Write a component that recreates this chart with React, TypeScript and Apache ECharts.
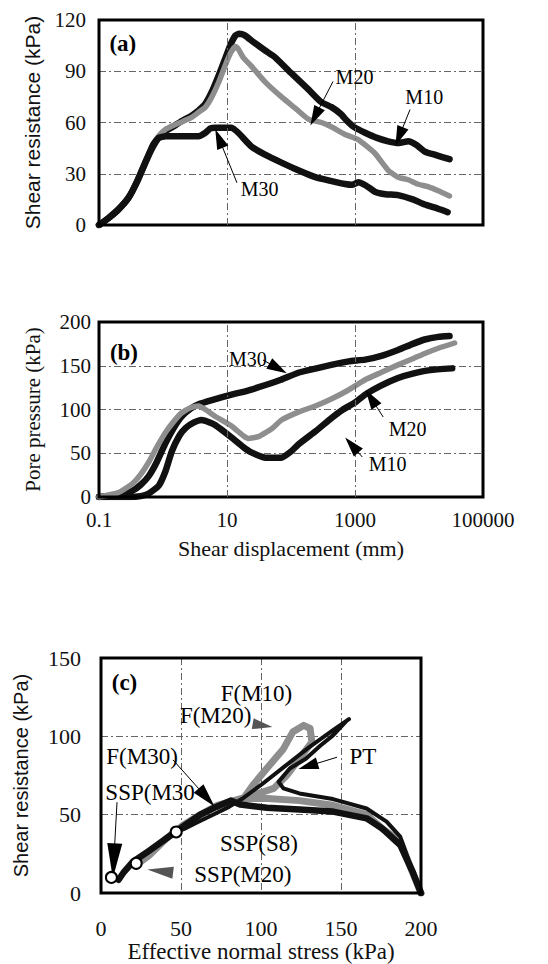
import React, { useEffect, useRef } from "react";
import * as echarts from "echarts";

// ---------- Panel (a): shear resistance vs shear displacement ----------
const M10_A = [
  [0.1, 0], [0.14, 4], [0.2, 9], [0.29, 16], [0.4, 26], [0.55, 38], [0.7, 46], [0.85, 51],
  [1.1, 55], [1.5, 58], [2, 61], [2.8, 64], [3.6, 67], [4.6, 71], [5.8, 78], [7.5, 88],
  [9.5, 98], [11.5, 106], [13.6, 111], [15.5, 112], [19, 111], [26, 107], [40, 102],
  [57, 98], [100, 89], [180, 80], [295, 72], [430, 69], [600, 65], [750, 61], [1000, 57],
  [1440, 54], [2200, 51], [3300, 49], [4800, 48], [6800, 49], [9000, 47], [12300, 43],
  [18000, 41], [30000, 38.5],
];
const M20_A = [
  [0.1, 0], [0.14, 4], [0.2, 9], [0.29, 16], [0.4, 26], [0.55, 38], [0.7, 47], [0.85, 52],
  [1.1, 56], [1.5, 58.5], [2, 60.5], [2.8, 63], [3.6, 66], [4.6, 69], [5.8, 75], [7.5, 84],
  [9.5, 94], [11.5, 101], [13.6, 104.5], [15, 103], [18, 98], [24, 93], [40, 83.5],
  [71, 75], [120, 68], [186, 62], [300, 60], [426, 57.5], [700, 53], [1120, 50],
  [2040, 42], [3300, 32], [4700, 28], [6800, 26.5], [9500, 24], [13800, 22.4],
  [20000, 20], [30000, 17],
];
const M30_A = [
  [0.1, 0], [0.14, 4], [0.2, 9], [0.29, 16], [0.4, 26], [0.55, 38], [0.7, 47], [0.85, 51],
  [1.1, 52], [1.5, 52], [2, 52], [2.8, 52], [3.6, 52], [4.6, 54], [5.5, 56.5], [6.6, 57],
  [9, 57], [11.8, 57], [15, 54], [24, 46], [40, 41], [71, 36.5], [130, 32], [240, 28],
  [400, 26], [700, 24], [900, 23.5], [1120, 25], [1500, 23], [2040, 19.5], [3000, 18],
  [4700, 17.5], [8000, 15], [12300, 12], [20000, 9.5], [28000, 7.5],
];

// ---------- Panel (b): pore pressure vs shear displacement ----------
const M30_B = [
  [0.1, 0], [0.2, 2], [0.33, 7], [0.45, 14], [0.6, 24], [0.8, 40], [1.1, 62], [1.5, 80],
  [1.95, 92], [2.7, 101], [3.6, 106], [6, 111], [11.8, 117], [20, 121], [40, 128],
  [70, 134], [130, 142], [250, 147], [426, 151], [800, 155], [1440, 157], [2500, 161],
  [4700, 168], [8000, 175], [12300, 180], [20000, 183], [30000, 184],
];
const M20_B = [
  [0.1, 0], [0.2, 5], [0.33, 15], [0.45, 26], [0.6, 40], [0.8, 57], [1.1, 74], [1.5, 87],
  [1.95, 96], [2.7, 102], [3.6, 104], [4.6, 100], [6.6, 92], [11.8, 81], [18, 70],
  [21.5, 67], [31, 69], [50, 78], [71, 88], [130, 97], [240, 104], [426, 112], [780, 122],
  [1440, 134], [2500, 142], [4700, 151], [8000, 158], [12300, 164], [20000, 170], [36000, 176],
];
const M10_B = [
  [0.1, 0], [0.3, 0], [0.45, 1], [0.6, 4], [0.86, 13], [1.1, 30], [1.37, 52], [1.8, 70],
  [2.27, 79], [3, 85], [4, 88], [5, 86], [6.6, 82], [11.8, 68], [18, 57], [24, 51],
  [40, 45], [71, 45], [100, 52], [130, 60], [250, 76], [426, 90], [650, 100], [1000, 108],
  [1440, 117], [2500, 127], [4700, 136], [8000, 141], [15000, 145], [33000, 147],
];

// ---------- Panel (c): stress paths ----------
const M10_C = [
  [200, 0], [194, 16], [187, 36], [178.5, 45.6], [166, 54], [145, 60], [124, 63.6],
  [114, 66.8], [111, 71], [118, 79.5], [128, 85.7], [137, 94], [145, 100.6], [153.6, 110],
  [155, 111], [145, 104], [130, 93], [115, 81], [100, 69], [88, 60], [80, 55], [70, 50],
  [60, 45], [52, 41], [47, 39],
];
const M20_C = [
  [200, 0], [194, 15], [187, 33], [176, 41], [166, 50], [145, 56], [124, 59], [104, 60.4],
  [89, 60.4], [95, 69], [103.6, 79.5], [114, 92], [120, 103], [126.6, 107], [130.7, 105],
  [131.8, 96.4], [124, 85.8], [116, 75], [108, 66.8], [95, 62.5], [83, 59], [72.7, 56],
  [62, 50], [51.5, 43.4], [41, 35], [30.5, 24.4], [22, 18],
];
const M30_C = [
  [200, 0], [195, 13], [187, 30.7], [176, 41], [166, 47.7], [145, 52], [124, 53.4],
  [103.6, 54.5], [87, 56.5], [81, 59], [72, 55], [62, 50], [52, 43], [41, 35], [30, 27],
  [20, 20], [14, 13], [11, 8.5],
];
const SSP_POINTS = [[6.5, 10], [22, 19], [47, 39]];

// Tick / label texts
const LOG_TICK_LABELS = ["0.1", "10", "1000", "100000"];
const LOG_GRID_VALUES = [10, 1000];

// Annotations: [x, y, text]
const LABELS_A: [number, number, string][] = [[1000, 86.5, "M20"], [12300, 74.7, "M10"], [33, 21, "M30"]];
const LABELS_B: [number, number, string][] = [[21.5, 156.6, "M30"], [6760, 76.6, "M20"], [3300, 36.6, "M10"]];
const LABELS_C: [number, number, string][] = [
  [97.5, 127, "F(M10)"], [72, 113, "F(M20)"], [26, 87, "F(M30)"], [31, 64, "SSP(M30"],
  [164, 87, "PT"], [99, 31.6, "SSP(S8)"], [89, 11.4, "SSP(M20)"],
];
const PANEL_TAGS: [number, number, string][] = [[0.24, 106, "(a)"], [0.25, 164.6, "(b)"], [15, 134, "(c)"]];

// Arrows: from [x,y] to head [x,y], head size [w,h], colour
const ARROWS_A = [
  { from: [453, 84], to: [237, 63.5], size: [12, 20], color: "#000" },
  { from: [7240, 67.6], to: [4900, 51.8], size: [12, 20], color: "#000" },
  { from: [14.3, 24.7], to: [7.5, 50.6], size: [12, 20], color: "#000" },
];
const ARROWS_B = [
  { from: [36.5, 156.6], to: [62.7, 147], size: [12, 20], color: "#000" },
  { from: [2760, 91.4], to: [1780, 113], size: [12, 20], color: "#000" },
  { from: [1300, 45.7], to: [890, 59.4], size: [12, 20], color: "#000" },
];
const ARROWS_C = [
  { from: [45, 85], to: [66, 61], size: [13, 24], color: "#000" },
  { from: [10, 58], to: [8, 20.6], size: [15, 35], color: "#000" },
  { from: [147.5, 86.7], to: [129.4, 81], size: [12, 20], color: "#000" },
  { from: [92, 108.6], to: [101, 107], size: [11, 20], color: "#555", noLine: true },
  { from: [50, 12.4], to: [37, 14], size: [12, 26], color: "#555", noLine: true },
];

const SERIF = "'Liberation Serif', 'Times New Roman', Times, serif";
const SANS = "'Liberation Sans', Arial, Helvetica, sans-serif";
const BLACK = "#111";
const GRAY = "#8e8e8e";
const GRID_LINE = { color: "#666", width: 1, type: [7, 3, 2, 3] as number[] };

function lineSeries(data: number[][], color: string, width: number, xi: number, z: number, smooth: number) {
  return {
    type: "line",
    xAxisIndex: xi,
    yAxisIndex: xi,
    data,
    showSymbol: false,
    symbol: "none",
    smooth,
    z,
    lineStyle: { color, width, cap: "round", join: "round" },
    silent: true,
  };
}

function arrowMarkLine(arrows: any[]) {
  return {
    silent: true,
    animation: false,
    label: { show: false },
    symbol: ["none", "triangle"],
    data: arrows.map((a) => [
      { coord: a.from, symbol: "none", lineStyle: { color: a.color, width: a.noLine ? 0 : 1, type: "solid" } },
      { coord: a.to, symbol: "triangle", symbolSize: a.size },
    ]),
  };
}

function textLabel(text: string, fontSize: number, bold: boolean) {
  return {
    show: true,
    position: [0, 0],
    align: "center",
    verticalAlign: "middle",
    formatter: text,
    fontFamily: SERIF,
    fontSize,
    fontWeight: bold ? "bold" : "normal",
    color: "#000",
    textBorderWidth: 0,
    opacity: 1,
  };
}

function labelSeries(xi: number, labels: [number, number, string][], fontSize: number, arrows: any[], tag: [number, number, string]) {
  return {
    type: "scatter",
    xAxisIndex: xi,
    yAxisIndex: xi,
    symbol: "rect",
    symbolSize: 1,
    itemStyle: { color: "#fff", opacity: 1 },
    silent: true,
    z: 10,
    data: [
      ...labels.map((l) => ({ value: [l[0], l[1]], label: textLabel(l[2], fontSize, false) })),
      { value: [tag[0], tag[1]], label: textLabel(tag[2], 23, true) },
    ],
    markLine: arrowMarkLine(arrows),
  };
}

function gridLineSeries(xi: number) {
  return {
    type: "line",
    xAxisIndex: xi,
    yAxisIndex: xi,
    data: [],
    z: 1,
    markLine: {
      silent: true,
      symbol: ["none", "none"],
      label: { show: false },
      lineStyle: GRID_LINE,
      data: LOG_GRID_VALUES.map((v) => ({ xAxis: v })),
    },
  };
}

function logXAxis(gi: number, showLabels: boolean) {
  return {
    type: "log",
    logBase: 10,
    gridIndex: gi,
    min: 0.1,
    max: 100000,
    splitNumber: 6,
    axisLine: { show: false },
    axisTick: { show: false },
    splitLine: { show: false },
    axisLabel: {
      show: showLabels,
      fontFamily: SERIF,
      fontSize: 21,
      color: BLACK,
      margin: 12,
      formatter: (v: number) => {
        const e = Math.round(Math.log10(v));
        const idx = (e + 1) / 2;
        return Number.isInteger(idx) ? LOG_TICK_LABELS[idx] ?? "" : "";
      },
    },
    name: showLabels ? "Shear displacement (mm)" : "",
    nameLocation: "middle",
    nameGap: 40,
    nameTextStyle: { fontFamily: SERIF, fontSize: 22, color: BLACK },
  };
}

function valueYAxis(gi: number, max: number, interval: number, name: string, font: string, nameSize: number, nameGap: number, margin: number, labelSize: number) {
  return {
    type: "value",
    gridIndex: gi,
    min: 0,
    max,
    interval,
    axisLine: { show: false },
    axisTick: { show: false },
    splitLine: { show: true, showMinLine: false, showMaxLine: false, lineStyle: GRID_LINE },
    axisLabel: { fontFamily: SERIF, fontSize: labelSize, color: BLACK, margin },
    name,
    nameLocation: "middle",
    nameRotate: 90,
    nameGap,
    nameTextStyle: { fontFamily: font, fontSize: nameSize, color: BLACK },
  };
}

export default function App() {
  const ref = useRef<HTMLDivElement>(null);
  useEffect(() => {
    const chart = echarts.init(ref.current!, null, { renderer: "svg" });
    const option: any = {
      animation: false,
      backgroundColor: "#fff",
      textStyle: { fontFamily: SERIF },
      grid: [
        { left: 99, top: 20, width: 384, height: 205, show: true, borderColor: "#000", borderWidth: 3, backgroundColor: "transparent", z: 5 },
        { left: 99, top: 322, width: 384, height: 175, show: true, borderColor: "#000", borderWidth: 3, backgroundColor: "transparent", z: 5 },
        { left: 101, top: 658, width: 320, height: 237, show: true, borderColor: "#000", borderWidth: 3, backgroundColor: "transparent", z: 5 },
      ],
      xAxis: [
        logXAxis(0, false),
        logXAxis(1, true),
        {
          type: "value",
          gridIndex: 2,
          min: 0,
          max: 200,
          interval: 50,
          axisLine: { show: false },
          axisTick: { show: false },
          splitLine: { show: true, showMinLine: false, showMaxLine: false, lineStyle: GRID_LINE },
          axisLabel: { fontFamily: SERIF, fontSize: 22, color: BLACK, margin: 24 },
          name: "Effective normal stress (kPa)",
          nameLocation: "middle",
          nameGap: 44,
          nameTextStyle: { fontFamily: SERIF, fontSize: 23, color: BLACK },
        },
      ],
      yAxis: [
        valueYAxis(0, 120, 30, "Shear resistance (kPa)", SANS, 21, 56, 13, 21),
        valueYAxis(1, 200, 50, "Pore pressure (kPa)", SERIF, 21, 56, 8, 21),
        valueYAxis(2, 150, 50, "Shear resistance (kPa)", SANS, 20, 70, 20, 22),
      ],
      series: [
        gridLineSeries(0),
        gridLineSeries(1),
        lineSeries(M10_A, BLACK, 6.5, 0, 2, 0.15),
        lineSeries(M20_A, GRAY, 5.5, 0, 3, 0.15),
        lineSeries(M30_A, BLACK, 6.5, 0, 4, 0.15),
        lineSeries(M30_B, BLACK, 6.5, 1, 2, 0.15),
        lineSeries(M10_B, BLACK, 6.5, 1, 3, 0.15),
        lineSeries(M20_B, GRAY, 5.5, 1, 4, 0.15),
        lineSeries(M20_C, GRAY, 7, 2, 2, 0),
        lineSeries(M30_C, BLACK, 6.5, 2, 3, 0),
        lineSeries(M10_C, BLACK, 4, 2, 4, 0),
        {
          type: "scatter",
          xAxisIndex: 2,
          yAxisIndex: 2,
          data: SSP_POINTS,
          symbol: "circle",
          symbolSize: 11,
          itemStyle: { color: "#fff", borderColor: "#000", borderWidth: 2, opacity: 1 },
          z: 8,
          silent: true,
        },
        labelSeries(0, LABELS_A, 20, ARROWS_A, PANEL_TAGS[0]),
        labelSeries(1, LABELS_B, 20, ARROWS_B, PANEL_TAGS[1]),
        labelSeries(2, LABELS_C, 23, ARROWS_C, PANEL_TAGS[2]),
      ],
    };
    chart.setOption(option);
    return () => chart.dispose();
  }, []);
  return (
    <div
      ref={ref}
      style={{ position: "absolute", left: 0, top: 0, width: 548, height: 964, background: "#fff" }}
    />
  );
}
